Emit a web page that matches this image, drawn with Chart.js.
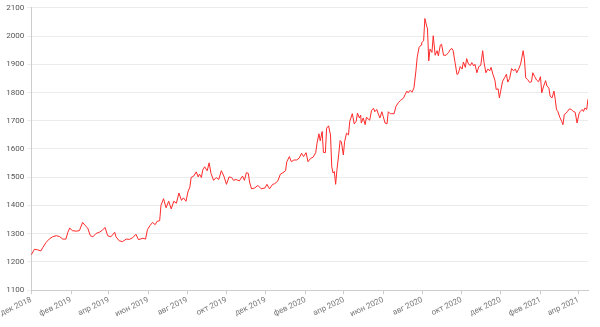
<!DOCTYPE html>
<html>
<head>
<meta charset="utf-8">
<script src="https://cdn.jsdelivr.net/npm/chart.js@4"></script>
<style>
html,body{margin:0;padding:0;background:#fff;}
#wrap{width:600px;height:327px;}
</style>
</head>
<body>
<div id="wrap"><canvas id="c"></canvas></div>
<script>
const dates = [
'2018-12-01','2018-12-06','2018-12-11','2018-12-16','2018-12-19','2018-12-24','2018-12-29',
'2019-01-03','2019-01-09','2019-01-14','2019-01-19','2019-01-24','2019-01-27','2019-01-30',
'2019-02-03','2019-02-09','2019-02-14','2019-02-19','2019-02-23','2019-02-27',
'2019-03-03','2019-03-07','2019-03-12','2019-03-17','2019-03-22','2019-03-26','2019-03-30',
'2019-04-04','2019-04-10','2019-04-12','2019-04-17','2019-04-22','2019-04-28',
'2019-05-03','2019-05-08','2019-05-13','2019-05-17','2019-05-24','2019-05-28','2019-05-31',
'2019-06-04','2019-06-08','2019-06-12','2019-06-15','2019-06-19','2019-06-21','2019-06-25','2019-06-29',
'2019-07-03','2019-07-07','2019-07-11','2019-07-15','2019-07-19','2019-07-23','2019-07-26','2019-07-30',
'2019-08-02','2019-08-05','2019-08-07','2019-08-11','2019-08-15','2019-08-18','2019-08-20','2019-08-23','2019-08-25','2019-08-28',
'2019-09-01','2019-09-04','2019-09-07','2019-09-11','2019-09-15','2019-09-19','2019-09-23','2019-09-27',
'2019-10-01','2019-10-05','2019-10-09','2019-10-12','2019-10-16','2019-10-21','2019-10-26','2019-10-29',
'2019-11-01','2019-11-04','2019-11-06','2019-11-09','2019-11-14','2019-11-19','2019-11-24','2019-11-30',
'2019-12-03','2019-12-07','2019-12-12','2019-12-15','2019-12-20','2019-12-24','2019-12-28',
'2020-01-01','2020-01-03','2020-01-07','2020-01-10','2020-01-14','2020-01-18','2020-01-22','2020-01-26','2020-01-29',
'2020-02-02','2020-02-05','2020-02-09','2020-02-13','2020-02-17','2020-02-19','2020-02-22','2020-02-24','2020-02-27','2020-02-29',
'2020-03-03','2020-03-05','2020-03-08','2020-03-11','2020-03-13','2020-03-15','2020-03-17','2020-03-19','2020-03-21','2020-03-24','2020-03-26','2020-03-28','2020-03-31',
'2020-04-02','2020-04-05','2020-04-08','2020-04-10','2020-04-14','2020-04-17','2020-04-20','2020-04-22','2020-04-25','2020-04-27','2020-04-28',
'2020-05-01','2020-05-04','2020-05-06','2020-05-09','2020-05-11','2020-05-14','2020-05-17','2020-05-19','2020-05-22','2020-05-24','2020-05-27','2020-05-30',
'2020-06-01','2020-06-04','2020-06-07','2020-06-09','2020-06-12','2020-06-14','2020-06-18','2020-06-21','2020-06-25','2020-06-28',
'2020-07-03','2020-07-05','2020-07-08','2020-07-10','2020-07-13','2020-07-16','2020-07-19','2020-07-22','2020-07-24','2020-07-27','2020-07-30','2020-07-31',
'2020-08-03','2020-08-05','2020-08-08','2020-08-09','2020-08-11','2020-08-13','2020-08-16','2020-08-18','2020-08-21','2020-08-24','2020-08-26','2020-08-29','2020-08-31',
'2020-09-03','2020-09-07','2020-09-11','2020-09-13','2020-09-16','2020-09-18','2020-09-21','2020-09-24','2020-09-26','2020-09-29',
'2020-10-02','2020-10-04','2020-10-07','2020-10-09','2020-10-12','2020-10-15','2020-10-17','2020-10-20','2020-10-22','2020-10-25','2020-10-28','2020-10-31',
'2020-11-03','2020-11-05','2020-11-08','2020-11-11','2020-11-14','2020-11-16','2020-11-19','2020-11-22','2020-11-24','2020-11-27','2020-11-29',
'2020-12-01','2020-12-04','2020-12-07','2020-12-10','2020-12-12','2020-12-15','2020-12-18','2020-12-21','2020-12-24','2020-12-26','2020-12-29',
'2021-01-01','2021-01-03','2021-01-05','2021-01-07','2021-01-09','2021-01-12','2021-01-15','2021-01-18','2021-01-20','2021-01-23','2021-01-26','2021-01-29',
'2021-02-01','2021-02-03','2021-02-06','2021-02-09','2021-02-11','2021-02-14','2021-02-16','2021-02-19','2021-02-22','2021-02-24','2021-02-26','2021-02-28',
'2021-03-03','2021-03-06','2021-03-08','2021-03-10','2021-03-13','2021-03-15','2021-03-18','2021-03-21','2021-03-24','2021-03-27','2021-03-30',
'2021-04-02','2021-04-04','2021-04-07','2021-04-09','2021-04-11','2021-04-14','2021-04-16'
];
const prices = [
1225,1245,1243,1239,1251,1269,1281,
1289,1293,1290,1281,1281,1305,1320,
1311,1309,1311,1340,1329,1320,
1293,1289,1301,1305,1313,1322,1293,
1289,1305,1289,1275,1272,1281,
1280,1286,1298,1279,1284,1281,1315,
1329,1340,1332,1344,1346,1400,1424,1392,
1415,1388,1415,1408,1444,1418,1427,1415,
1448,1465,1499,1504,1519,1501,1511,1499,1525,1537,
1523,1551,1513,1489,1499,1492,1523,1504,
1475,1501,1499,1489,1492,1487,1504,1489,
1516,1514,1483,1459,1462,1471,1459,1462,
1475,1459,1475,1477,1487,1511,1516,
1523,1555,1573,1555,1561,1561,1567,1585,1573,
1587,1555,1567,1571,1587,1620,1654,1629,1662,1588,
1587,1674,1682,1650,1537,1515,1520,1475,1525,1585,1630,1625,1579,
1626,1656,1650,1698,1725,1689,1698,1727,1710,1720,1692,
1710,1686,1713,1705,1702,1737,1744,1732,1740,1727,1710,1732,
1716,1692,1689,1732,1725,1725,1725,1751,1765,1772,
1781,1792,1805,1799,1808,1801,1817,1876,1924,1960,1968,1977,
1983,2062,2033,2028,1912,1954,1942,2001,1932,1948,1930,1968,1971,
1932,1932,1942,1951,1956,1948,1906,1864,1867,1892,
1883,1908,1889,1920,1900,1896,1906,1894,1900,1870,1892,1896,
1948,1908,1870,1883,1877,1889,1864,1844,1811,1813,1781,
1805,1840,1852,1865,1837,1850,1885,1877,1883,1870,1883,
1900,1924,1948,1918,1852,1846,1836,1838,1870,1856,1844,1838,
1856,1799,1823,1842,1823,1817,1787,1781,1805,1776,1739,1733,
1713,1698,1686,1722,1727,1733,1742,1740,1733,1730,1692,
1725,1733,1740,1733,1745,1740,1777
];
const tickDates = ['2018-12-01','2019-02-01','2019-04-01','2019-06-01','2019-08-01','2019-10-01','2019-12-01',
'2020-02-01','2020-04-01','2020-06-01','2020-08-01','2020-10-01','2020-12-01','2021-02-01','2021-04-01'];
const tickLabels = ['дек 2018','фев 2019','апр 2019','июн 2019','авг 2019','окт 2019','дек 2019',
'фев 2020','апр 2020','июн 2020','авг 2020','окт 2020','дек 2020','фев 2021','апр 2021'];
const yMin = 1100, yMax = 2100, yStep = 100;

const origin = Date.UTC(2018, 11, 1);
function dayOf(s){ const p = s.split('-').map(Number); return Math.round((Date.UTC(p[0], p[1]-1, p[2]) - origin) / 86400000); }
const points = dates.map((d, i) => ({x: dayOf(d), y: prices[i]}));
const tickDays = tickDates.map(dayOf);
const labelByDay = {};
tickDays.forEach((d, i) => labelByDay[d] = tickLabels[i]);

const font = {family: 'Roboto, "Noto Sans", sans-serif', size: 8};
new Chart(document.getElementById('c'), {
  type: 'line',
  data: {datasets: [{data: points, borderColor: '#ff2a2a', borderWidth: 1, pointRadius: 0, tension: 0, fill: false}]},
  options: {
    responsive: true, maintainAspectRatio: false, animation: false,
    layout: {padding: {top: 6, right: 12, left: 1, bottom: 7}},
    plugins: {legend: {display: false}, tooltip: {enabled: false}},
    scales: {
      x: {
        type: 'linear', min: 0, max: points[points.length-1].x,
        afterBuildTicks: s => { s.ticks = tickDays.map(v => ({value: v})); },
        ticks: {autoSkip: false, minRotation: 25, maxRotation: 25, color: '#777', font, padding: 1,
          callback: v => labelByDay[v] || ''},
        grid: {drawOnChartArea: false, tickLength: 4, color: '#ccc'},
        border: {color: '#ccc'}
      },
      y: {
        min: yMin, max: yMax,
        ticks: {stepSize: yStep, color: '#555', font, padding: 3, callback: v => String(v)},
        grid: {color: '#ececec', tickLength: 4},
        border: {color: '#ccc'}
      }
    }
  }
});
</script>
</body>
</html>
